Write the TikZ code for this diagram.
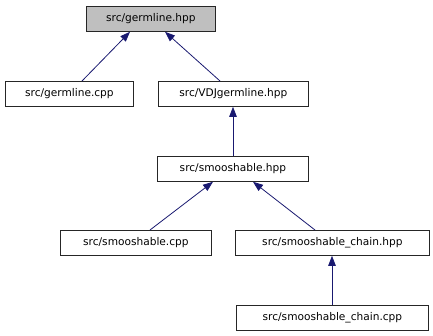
\documentclass[tikz,border=0pt]{standalone}
\usepackage{fontspec}
\setmainfont{DejaVu Sans}
\usetikzlibrary{arrows.meta,calc}
\definecolor{edgeblue}{HTML}{191970}
\begin{document}
\begin{tikzpicture}[x=1pt,y=-1pt,
  file/.style={draw=black!85,line width=0.8pt,fill=white,minimum height=25pt,inner sep=0pt,font=\fontsize{10.6}{12}\selectfont,anchor=north west},
  current/.style={file,fill=black!25},
  dep/.style={draw=edgeblue,line width=0.8pt,-{Triangle[length=10pt,width=7.5pt]}}]
\useasboundingbox (0,0) rectangle (433,336);
\node[current,minimum width=129pt] (ghpp) at (86,6) {src/germline.hpp};
\node[file,minimum width=128pt] (gcpp) at (5,81) {src/germline.cpp};
\node[file,minimum width=150pt] (vdj) at (158,81) {src/VDJgermline.hpp};
\node[file,minimum width=151pt] (shpp) at (157,156) {src/smooshable.hpp};
\node[file,minimum width=151pt] (scpp) at (60,230) {src/smooshable.cpp};
\node[file,minimum width=194pt] (chpp) at (235,230) {src/smooshable\_chain.hpp};
\node[file,minimum width=192pt] (ccpp) at (236,305) {src/smooshable\_chain.cpp};
% include edges, arrow points at the included header
\draw[dep] ($(gcpp.north west)+(77,0)$) -- ($(ghpp.south west)+(44,0)$);
\draw[dep] ($(vdj.north west)+(62,0)$) -- ($(ghpp.south west)+(79,0)$);
\draw[dep] ($(shpp.north west)+(76,0)$) -- ($(vdj.south west)+(75,0)$);
\draw[dep] ($(scpp.north west)+(90,0)$) -- ($(shpp.south west)+(56,0)$);
\draw[dep] ($(chpp.north west)+(80,0)$) -- ($(shpp.south west)+(96,0)$);
\draw[dep] ($(ccpp.north west)+(96,0)$) -- ($(chpp.south west)+(97,0)$);
\end{tikzpicture}
\end{document}
